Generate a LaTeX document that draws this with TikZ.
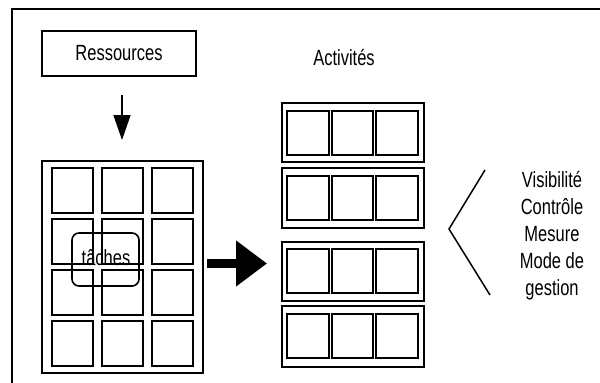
\documentclass[tikz,border=0pt]{standalone}
\usepackage{fontspec}
\setmainfont[FakeStretch=0.75]{Liberation Sans}
\usetikzlibrary{arrows.meta}
\tikzset{
  frameline/.style={line width=2pt},
  plainbox/.style={draw, line width=1.5pt, inner sep=0pt, outer sep=0pt},
  cellbox/.style={draw, line width=2pt, inner sep=0pt, outer sep=0pt, minimum width=41pt, minimum height=45pt, anchor=north west},
  acell/.style={draw, line width=2pt, inner sep=0pt, outer sep=0pt, minimum width=41.5pt, minimum height=44pt, anchor=north west},
  groupbox/.style={draw, line width=1.8pt, inner sep=0pt, outer sep=0pt, minimum width=142pt, anchor=north west},
  lbl/.style={font=\fontsize{22}{27}\selectfont, inner sep=0pt, align=center},
}
\begin{document}
\begin{tikzpicture}[x=1pt,y=-1pt]
\useasboundingbox (0,0) rectangle (600,383);
% outer frame
\coordinate (ftl) at (12,9);
\coordinate (ftr) at (602,9);
\coordinate (fbl) at (12,385);
\draw[frameline] (ftr) -- (ftl) -- (fbl);
% Ressources
\node[plainbox, minimum width=154pt, minimum height=45pt] (res) at (119,53.5) {};
\node[lbl] (restxt) at (119,53.5) {Ressources};
% left grid
\node[plainbox, minimum width=161pt, minimum height=212pt, anchor=north west] (grid) at (42,161) {};
\foreach \r/\y in {1/168,2/219,3/270,4/320.5}{
  \foreach \c/\x in {1/52,2/102,3/152}{
    \node[cellbox] (g\r\c) at (\x,\y) {};
  }
}
% taches
\node[draw, line width=1.6pt, rounded corners=7pt, minimum width=67pt, minimum height=53pt, inner sep=0pt] (taches) at (105.5,259.5) {};
\node[lbl] (tachestxt) at (106,258) {tâches};
% down arrow
\draw[line width=1.5pt, -{Triangle[length=25pt,width=17pt]}] ([xshift=3pt,yshift=-19pt]res.south) -- ([xshift=3pt,yshift=21pt]grid.north -| res.south);
% Activites
\node[lbl] (act) at (344,58) {Activités};
% activity groups
\foreach \g/\top/\h/\ct in {1/103/59/111, 2/168/60/176, 3/242/59/249, 4/306/61/314}{
  \node[groupbox, minimum height=\h pt] (grp\g) at (282,\top) {};
  \foreach \c/\x in {1/287,2/331.5,3/376}{
    \node[acell] (a\g\c) at (\x,\ct) {};
  }
}
% big arrow
\coordinate (bigstart) at (207,263.5);
\coordinate (bigend) at (267,263.5);
\draw[line width=8.5pt, -{Triangle[length=31pt,width=44pt]}] (bigstart) -- (bigend);
% bracket
\coordinate (bt) at (485,170);
\coordinate (bv) at (449,229);
\coordinate (bb) at (490,295);
\draw[line width=1.5pt] (bt) -- (bv) -- (bb);
% right text
\node[lbl] (vis) at (552,236) {Visibilité\\Contrôle\\Mesure\\Mode de\\gestion};
\end{tikzpicture}
\end{document}
